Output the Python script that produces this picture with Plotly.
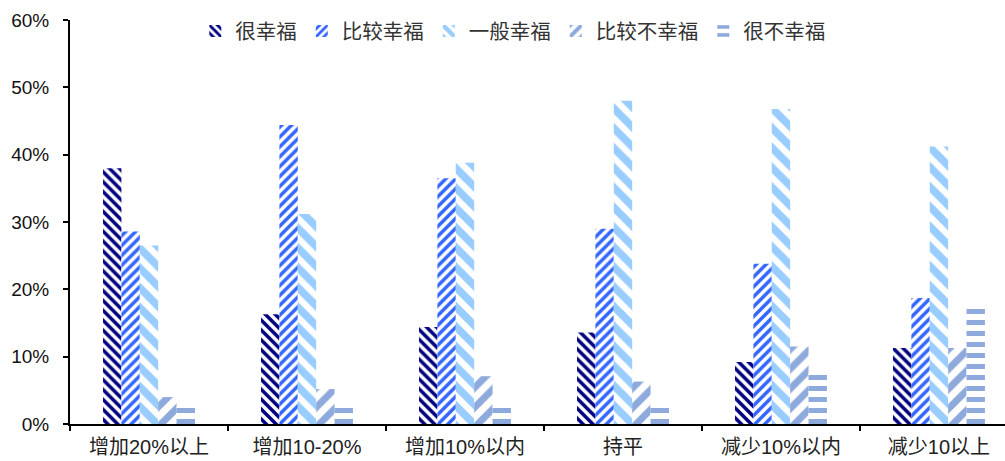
import plotly.graph_objects as go

# Income-change groups on the x axis
categories = ["增加20%以上", "增加10-20%", "增加10%以内", "持平", "减少10%以内", "减少10以上"]

# Share of respondents (%) in each happiness level
very_happy = [38.0, 16.3, 14.4, 13.6, 9.2, 11.3]
fairly_happy = [28.6, 44.4, 36.5, 29.0, 23.8, 18.7]
moderately_happy = [26.5, 31.2, 38.8, 48.0, 46.8, 41.2]
fairly_unhappy = [4.0, 5.2, 7.1, 6.3, 11.5, 11.3]
very_unhappy = [2.7, 2.4, 2.7, 2.9, 7.7, 17.1]

series = [
    ("很幸福", very_happy, "#000080", "\\", 7, 0.5),
    ("比较幸福", fairly_happy, "#3366FF", "/", 7, 0.5),
    ("一般幸福", moderately_happy, "#99CCFF", "\\", 14, 0.55),
    ("比较不幸福", fairly_unhappy, "#8EA9DB", "/", 14, 0.5),
    ("很不幸福", very_unhappy, "#8EA9DB", "-", 11, 0.45),
]

LATIN_CJK = "Liberation Sans, Arial, Noto Sans CJK SC, sans-serif"

fig = go.Figure()
for name, vals, color, shape, size, solidity in series:
    fig.add_trace(go.Bar(
        name=name,
        x=categories,
        y=vals,
        marker=dict(
            color=color,
            line=dict(width=0),
            pattern=dict(shape=shape, size=size, solidity=solidity,
                         fgcolor=color, bgcolor="white", fillmode="replace"),
        ),
    ))

fig.update_layout(
    width=1005,
    height=461,
    margin=dict(l=70, r=0, t=20, b=37, autoexpand=False),
    paper_bgcolor="white",
    plot_bgcolor="white",
    barmode="group",
    bargap=0.418,
    bargroupgap=0,
    font=dict(family=LATIN_CJK, size=20, color="#222222"),
    legend=dict(
        orientation="h",
        x=0.134, xanchor="left",
        y=1.022, yanchor="top",
        bgcolor="rgba(0,0,0,0)",
        font=dict(family=LATIN_CJK, size=20.5, color="#333333"),
        itemwidth=30,
        traceorder="normal",
    ),
    showlegend=True,
)

fig.update_xaxes(
    type="category",
    range=[-0.5, 5.418],
    showline=True, linecolor="black", linewidth=2,
    ticks="outside", ticklen=5, tickwidth=2, tickcolor="black",
    tickson="boundaries",
    showgrid=False, zeroline=False,
    tickfont=dict(family=LATIN_CJK, size=20, color="#222222"),
    ticklabelstandoff=4,
)

fig.update_yaxes(
    range=[0, 60],
    dtick=10,
    ticksuffix="%",
    showline=True, linecolor="black", linewidth=2,
    ticks="outside", ticklen=5, tickwidth=2, tickcolor="black",
    showgrid=False, zeroline=False,
    tickfont=dict(family=LATIN_CJK, size=19, color="#111111"),
    ticklabelstandoff=10,
)

fig.write_html("out.html")
